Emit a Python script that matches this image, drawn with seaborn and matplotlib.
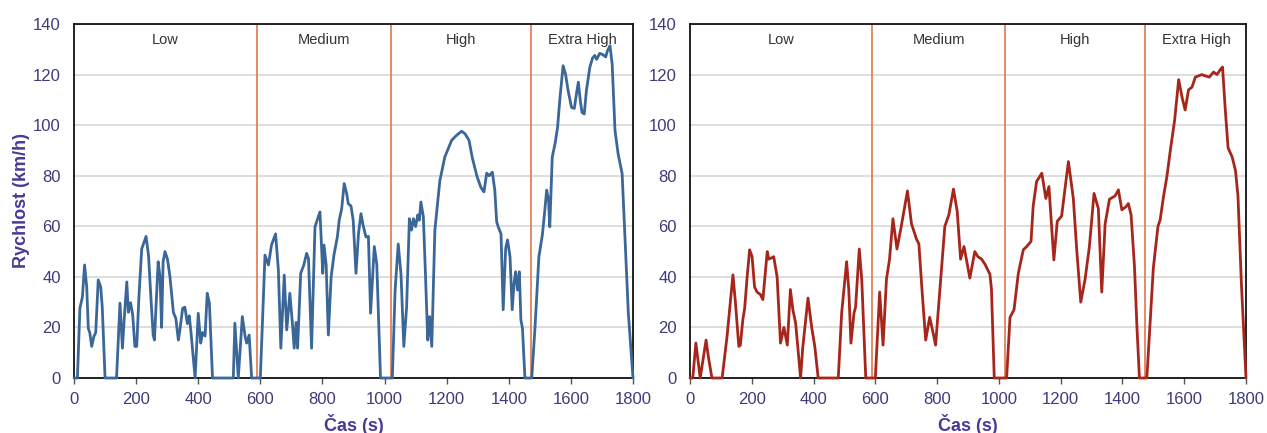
import seaborn as sns
import matplotlib.pyplot as plt
import pandas as pd

# WLTC rychlostní profily (čas s, rychlost km/h)
blue_pts = [
    (0, 0), (11, 0), (19, 27.6), (27, 32), (34, 44.7), (41, 36), (46, 19.7), (51, 17.8),
    (57, 12.5), (64, 16.4), (70, 18), (78, 38.8), (86, 36), (91, 28), (100, 0), (137, 0),
    (148, 29.6), (156, 11.8), (162, 24), (170, 38), (175, 26), (182, 29.8), (189, 25),
    (196, 12.5), (202, 12.5), (209, 32), (218, 51), (232, 56), (240, 48.5), (248, 31),
    (255, 17), (259, 15), (264, 28), (271, 46), (277, 40), (282, 20), (287, 46), (293, 50),
    (301, 47), (309, 40), (320, 26), (328, 23.5), (336, 15), (341, 19), (350, 27.6),
    (357, 28), (365, 21.5), (371, 24.6), (376, 19), (390, 0), (400, 25.6), (408, 13.8),
    (414, 18), (422, 16.6), (429, 33.5), (436, 29.6), (446, 0), (513, 0), (518, 21.7),
    (529, 0), (542, 24.3), (551, 16.4), (556, 13.8), (564, 17), (572, 0), (600, 0),
    (615, 48.6), (626, 44.7), (636, 52.6), (649, 57), (658, 43), (666, 11.8), (677, 40.7),
    (685, 19), (695, 33.5), (703, 22), (709, 11.8), (715, 22), (720, 11.8), (730, 41.4),
    (740, 44.7), (749, 49.3), (755, 47.3), (765, 11.8), (776, 59.8), (792, 65.7),
    (801, 41.4), (805, 52.6), (812, 44.7), (819, 17), (828, 40), (837, 48.6), (848, 55.8),
    (854, 62.4), (862, 67), (870, 76.9), (878, 73), (883, 69), (892, 68), (899, 62.4),
    (908, 41.4), (916, 57), (924, 65), (931, 60.4), (940, 55.8), (948, 56), (955, 25.6),
    (967, 52), (975, 45), (987, 0), (1025, 0), (1034, 34.8), (1044, 53), (1053, 41),
    (1062, 12.5), (1071, 28), (1080, 63), (1087, 58.5), (1093, 63), (1100, 59.9),
    (1107, 64.5), (1112, 62.4), (1117, 69.6), (1125, 63.7), (1132, 40), (1139, 15),
    (1145, 24.3), (1152, 12.5), (1162, 58.5), (1178, 78), (1194, 87.4), (1216, 94),
    (1232, 96), (1248, 97.6), (1259, 96.6), (1272, 94), (1282, 87.4), (1297, 80),
    (1310, 75.4), (1320, 73.6), (1329, 81), (1337, 80), (1347, 81.4), (1355, 74.3),
    (1361, 61.8), (1366, 59.8), (1375, 57), (1382, 27), (1390, 51.3), (1396, 54.6),
    (1404, 48), (1411, 27), (1417, 37.6), (1422, 42), (1428, 34.8), (1434, 42), (1439, 23),
    (1444, 19.7), (1448, 10), (1452, 0), (1474, 0), (1484, 19), (1497, 48), (1508, 56.5),
    (1514, 63.7), (1522, 74.3), (1528, 70.4), (1532, 59.8), (1540, 87.4), (1549, 92.7),
    (1557, 99), (1565, 111), (1575, 123.5), (1583, 120), (1591, 113.7), (1602, 107),
    (1611, 106.6), (1618, 112.5), (1624, 117), (1631, 109), (1636, 105), (1643, 104.4),
    (1650, 113.7), (1661, 122.9), (1670, 126.6), (1677, 127.6), (1683, 126), (1693, 128.4),
    (1704, 127.8), (1712, 127), (1718, 129.5), (1726, 131.4), (1733, 124), (1742, 98),
    (1752, 88.7), (1765, 80.8), (1774, 55.8), (1785, 25.6), (1800, 0),
]

red_pts = [
    (0, 0), (9, 0), (19, 13.8), (33, 0), (52, 15), (60, 8), (71, 0), (104, 0), (120, 16.5),
    (139, 40.8), (147, 30), (158, 12.5), (163, 13), (171, 23), (177, 27.6), (185, 40),
    (193, 50.7), (201, 48), (209, 36), (217, 34), (228, 33), (236, 31), (242, 39), (250, 50),
    (255, 47), (264, 47.5), (271, 48), (282, 40), (293, 13.8), (304, 20), (315, 13),
    (325, 35), (333, 27), (342, 21.7), (358, 0), (365, 12), (382, 31.6), (394, 20),
    (404, 12.5), (415, 0), (480, 0), (491, 25.7), (507, 46), (514, 35), (521, 13.8),
    (531, 25.7), (536, 28), (548, 51), (556, 39), (569, 0), (600, 0), (614, 34), (625, 13),
    (636, 39), (646, 47), (657, 63), (670, 51), (684, 60), (704, 74), (717, 61), (733, 55),
    (741, 53), (751, 35), (763, 15), (776, 24), (785, 19), (795, 13), (809, 35), (825, 60),
    (838, 64.5), (853, 74.7), (865, 66), (876, 47), (887, 52), (906, 39.5), (922, 50),
    (932, 48), (944, 47), (955, 45), (971, 41), (976, 35), (985, 0), (1025, 0), (1036, 24),
    (1049, 27), (1063, 41.5), (1079, 50.7), (1090, 52), (1104, 54), (1111, 68),
    (1122, 77.7), (1139, 81), (1152, 71), (1162, 75.7), (1178, 46.7), (1189, 62),
    (1203, 64), (1225, 85.6), (1241, 71), (1252, 50.7), (1265, 30), (1279, 39), (1293, 52),
    (1308, 73), (1322, 67), (1333, 34), (1344, 61), (1358, 70.7), (1376, 72), (1387, 74.4),
    (1398, 66.5), (1412, 67.8), (1419, 69), (1428, 64.5), (1439, 44), (1447, 20), (1455, 0),
    (1479, 0), (1500, 43.5), (1515, 60), (1522, 62.5), (1533, 71.8), (1544, 79.7),
    (1555, 90), (1569, 102), (1582, 118), (1593, 111), (1603, 106), (1614, 114), (1625, 115),
    (1636, 119), (1647, 119.5), (1657, 120), (1668, 119.5), (1681, 119), (1695, 121),
    (1706, 120), (1717, 122), (1724, 123), (1733, 106), (1742, 91), (1755, 87.5),
    (1766, 82), (1774, 72), (1785, 37.5), (1800, 0),
]

phase_bounds = [588, 1020, 1472]
phase_names = ["Low", "Medium", "High", "Extra High"]
phase_centers = [294, 805, 1246, 1638]
y_ticks = [0, 20, 40, 60, 80, 100, 120, 140]
x_ticks = [0, 200, 400, 600, 800, 1000, 1200, 1400, 1600, 1800]

sns.set_style("white")
plt.rcParams["font.family"] = ["Liberation Sans", "DejaVu Sans"]

tick_col = "#3d3b7c"
label_col = "#473a96"

W, H = 1267, 433
fig = plt.figure(figsize=(W / 100, H / 100), dpi=100)
ax1 = fig.add_axes([74 / W, 1 - 378 / H, (633 - 74) / W, (378 - 24) / H])
ax2 = fig.add_axes([690 / W, 1 - 378 / H, (1246 - 690) / W, (378 - 24) / H])

for ax, pts, col, ylab in [(ax1, blue_pts, "#3a6798", "Rychlost (km/h)"),
                           (ax2, red_pts, "#a6261c", None)]:
    df = pd.DataFrame(pts, columns=["cas", "rychlost"])
    ax.set_xlim(0, 1800)
    ax.set_ylim(0, 140)
    ax.set_yticks(y_ticks)
    ax.set_xticks(x_ticks)
    ax.yaxis.grid(True, color="#d4d4d4", linewidth=1.1)
    ax.set_axisbelow(True)
    for b in phase_bounds:
        ax.axvline(b, color="#e0774c", linewidth=1.2, zorder=2)
    sns.lineplot(data=df, x="cas", y="rychlost", ax=ax, color=col,
                 linewidth=2.0, sort=False, zorder=3, clip_on=False)
    for name, c in zip(phase_names, phase_centers):
        ax.text(c, 133.5, name, ha="center", va="center", fontsize=10.5, color="#333333")
    for s in ax.spines.values():
        s.set_color("#111111")
        s.set_linewidth(1.3)
    ax.tick_params(axis="x", bottom=True, length=4, width=1, color="#555555",
                   labelsize=12, labelcolor=tick_col, pad=6)
    ax.tick_params(axis="y", left=False, labelsize=12, labelcolor=tick_col, pad=6)
    ax.set_xlabel("Čas (s)", fontsize=13, fontweight="bold", color=label_col, labelpad=5)
    if ylab:
        ax.set_ylabel(ylab, fontsize=13, fontweight="bold", color=label_col)
        ax.yaxis.set_label_coords(-0.078, 0.5)
    else:
        ax.set_ylabel("")

fig.savefig("out.png", dpi=100)
